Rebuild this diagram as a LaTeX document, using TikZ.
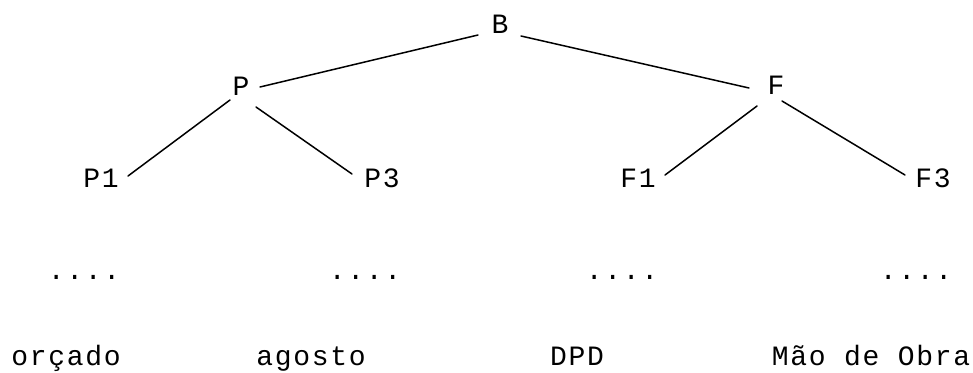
\documentclass[tikz,border=0pt]{standalone}
\usepackage{fontspec}
\setmonofont[LetterSpace=6]{Liberation Mono}
\usetikzlibrary{calc}
\begin{document}
\begin{tikzpicture}[x=1pt,y=-1pt,
  lbl/.style={anchor=base,inner sep=0pt,font=\ttfamily\fontsize{28}{30}\selectfont},
  edge/.style={line width=1.5pt,line cap=round}]
\useasboundingbox (0,0) rectangle (973,372);

% tree nodes
\node[lbl] (B)  at (500,33)  {B};
\node[lbl] (P)  at (241,95)  {P};
\node[lbl] (F)  at (776,94)  {F};
\node[lbl] (P1) at (101,187) {P1};
\node[lbl] (P3) at (382,187) {P3};
\node[lbl] (F1) at (638,187) {F1};
\node[lbl] (F3) at (933,187) {F3};

% ellipsis row
\node[lbl] (d1) at (84,279)  {....};
\node[lbl] (d2) at (365,279) {....};
\node[lbl] (d3) at (622,279) {....};
\node[lbl] (d4) at (916,279) {....};

% leaf labels
\node[lbl] (l1) at (66,365)  {orçado};
\node[lbl] (l2) at (311,365) {agosto};
\node[lbl] (l3) at (577,365) {DPD};
\node[lbl] (l4) at (871,365) {Mão de Obra};

% connectors
\draw[edge] ($(B.base)+(-22,2)$) -- ($(P.base)+(19,-8)$);
\draw[edge] ($(B.base)+(21,3)$)  -- ($(F.base)+(-27,-6)$);
\draw[edge] ($(P.base)+(-11,5)$) -- ($(P1.base)+(27,-11)$);
\draw[edge] ($(P.base)+(15,12)$) -- ($(P3.base)+(-30,-13)$);
\draw[edge] ($(F.base)+(-19,12)$) -- ($(F1.base)+(27,-12)$);
\draw[edge] ($(F.base)+(6,7)$)   -- ($(F3.base)+(-28,-12)$);
\end{tikzpicture}
\end{document}
